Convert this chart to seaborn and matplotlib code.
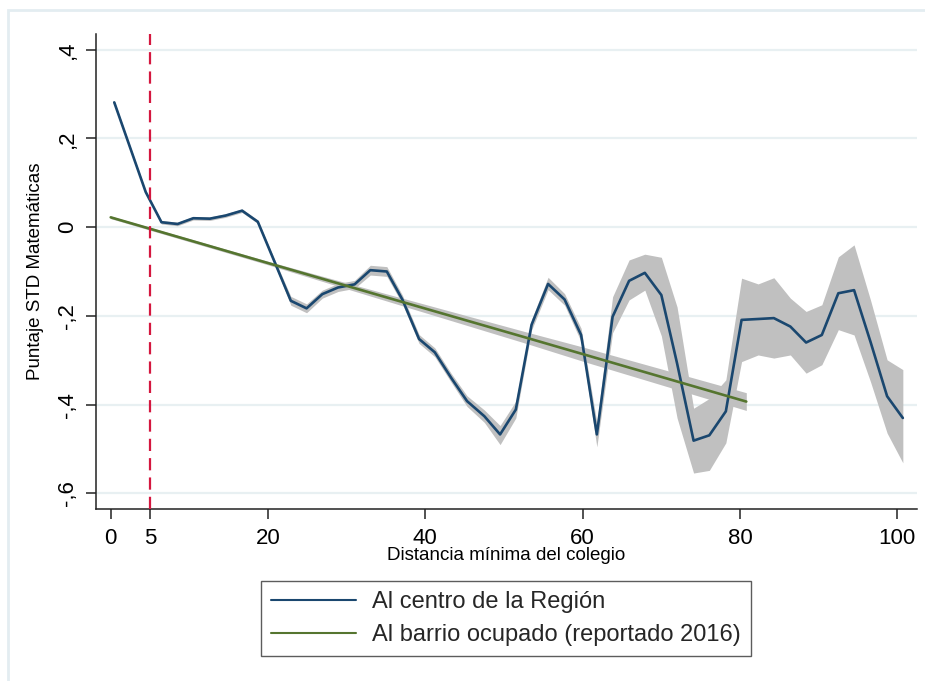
import matplotlib
matplotlib.use("Agg")
import matplotlib.pyplot as plt
import matplotlib.patches as mpatches
from matplotlib.lines import Line2D
import seaborn as sns
import pandas as pd

# ---------------- data ----------------
dist_centro = [0.45, 2.45, 4.45, 6.45, 8.5, 10.5, 12.6, 14.6, 16.7, 18.7,
               20.8, 22.9, 24.9, 26.9, 28.9, 31.0, 33.0, 35.1, 37.1, 39.2,
               41.2, 43.3, 45.3, 47.5, 49.5, 51.5, 53.5, 55.6, 57.7, 59.8,
               61.8, 63.8, 65.9, 67.9, 70.0, 72.0, 74.1, 76.1, 78.2, 80.2,
               82.3, 84.3, 86.4, 88.4, 90.4, 92.5, 94.5, 96.6, 98.7, 100.7]
puntaje_centro = [0.281, 0.180, 0.079, 0.011, 0.007, 0.020, 0.019, 0.026, 0.037, 0.012,
                  -0.077, -0.166, -0.183, -0.151, -0.136, -0.129, -0.097, -0.100, -0.164, -0.252,
                  -0.282, -0.340, -0.392, -0.426, -0.467, -0.411, -0.220, -0.128, -0.163, -0.243,
                  -0.467, -0.202, -0.121, -0.103, -0.153, -0.307, -0.481, -0.469, -0.415, -0.209,
                  -0.207, -0.205, -0.224, -0.260, -0.243, -0.149, -0.142, -0.259, -0.381, -0.430]
ci_low_centro = [0.277, 0.176, 0.075, 0.007, 0.003, 0.016, 0.015, 0.022, 0.033, 0.008,
                 -0.083, -0.176, -0.193, -0.160, -0.145, -0.138, -0.108, -0.111, -0.174, -0.262,
                 -0.292, -0.350, -0.404, -0.440, -0.490, -0.430, -0.232, -0.141, -0.176, -0.258,
                 -0.495, -0.238, -0.164, -0.142, -0.245, -0.430, -0.554, -0.548, -0.486, -0.303,
                 -0.288, -0.295, -0.288, -0.329, -0.310, -0.231, -0.243, -0.349, -0.464, -0.531]
ci_high_centro = [0.285, 0.184, 0.083, 0.015, 0.011, 0.024, 0.023, 0.030, 0.041, 0.016,
                  -0.071, -0.156, -0.173, -0.142, -0.127, -0.120, -0.086, -0.089, -0.154, -0.242,
                  -0.272, -0.330, -0.380, -0.412, -0.447, -0.392, -0.208, -0.113, -0.150, -0.228,
                  -0.440, -0.157, -0.074, -0.061, -0.068, -0.180, -0.408, -0.386, -0.344, -0.115,
                  -0.128, -0.114, -0.160, -0.190, -0.175, -0.067, -0.040, -0.165, -0.299, -0.321]

dist_barrio = [0.0, 20.0, 35.0, 53.0, 60.0, 80.8]
puntaje_barrio = [0.022, -0.081, -0.158, -0.250, -0.286, -0.393]
ci_low_barrio = [0.019, -0.085, -0.166, -0.263, -0.302, -0.413]
ci_high_barrio = [0.025, -0.077, -0.150, -0.237, -0.270, -0.373]

umbral = 5
x_ticks = [0, 5, 20, 40, 60, 80, 100]
y_ticks = [0.4, 0.2, 0.0, -0.2, -0.4, -0.6]
y_tick_labels = [",4", ",2", "0", "-,2", "-,4", "-,6"]
series_names = ["Al centro de la Región", "Al barrio ocupado (reportado 2016)"]
x_label = "Distancia mínima del colegio"
y_label = "Puntaje STD Matemáticas"

# ---------------- style ----------------
sns.set_theme(style="white")
plt.rcParams["font.family"] = ["Liberation Sans", "DejaVu Sans"]

BLUE = "#1a476f"
GREEN = "#55752f"
GREY = "#c0c0c0"
RED = "#d4173f"
GRID = "#e8f0f2"

fig = plt.figure(figsize=(9.25, 6.81), dpi=100)
fig.patch.set_facecolor("white")
W, H = 925, 681
ax = fig.add_axes([96 / W, 1 - 509 / H, (917 - 96) / W, (509 - 34) / H])
ax.set_facecolor("white")

# outer graph-region border
fig.add_artist(mpatches.Rectangle((8 / W, -0.02), 1.2, 1 - 10 / H + 0.02,
                                  transform=fig.transFigure, fill=False,
                                  edgecolor="#e3edf1", linewidth=2.0, zorder=0))

df_c = pd.DataFrame({"x": dist_centro, "y": puntaje_centro,
                     "lo": ci_low_centro, "hi": ci_high_centro})
df_b = pd.DataFrame({"x": dist_barrio, "y": puntaje_barrio,
                     "lo": ci_low_barrio, "hi": ci_high_barrio})

ax.fill_between(df_c["x"], df_c["lo"], df_c["hi"], color=GREY, linewidth=0, zorder=2)
ax.fill_between(df_b["x"], df_b["lo"], df_b["hi"], color=GREY, linewidth=0, zorder=2)
sns.lineplot(data=df_c, x="x", y="y", ax=ax, color=BLUE, linewidth=1.9,
             sort=False, estimator=None, zorder=3)
sns.lineplot(data=df_b, x="x", y="y", ax=ax, color=GREEN, linewidth=1.9,
             sort=False, estimator=None, zorder=3)

ax.axvline(umbral, color=RED, linewidth=1.6, dashes=(5.5, 3.2), zorder=4)

# axes
ax.set_xlim(-1.87, 102.5)
ax.set_ylim(-0.635, 0.435)
ax.set_xticks(x_ticks)
ax.set_xticklabels([str(t) for t in x_ticks])
ax.set_yticks(y_ticks)
ax.set_yticklabels(y_tick_labels, rotation=90, va="center")
for yt in y_ticks:
    ax.axhline(yt, color=GRID, linewidth=1.6, zorder=1)

for s in ["top", "right"]:
    ax.spines[s].set_visible(False)
for s in ["left", "bottom"]:
    ax.spines[s].set_color("#222222")
    ax.spines[s].set_linewidth(1.1)

ax.tick_params(axis="both", which="major", direction="out", length=7, width=1.1,
               color="#222222", labelsize=16, labelcolor="black")
ax.tick_params(axis="x", bottom=True, pad=6.5)
ax.tick_params(axis="y", left=True, pad=6)

ax.set_xlabel(x_label, fontsize=13.5, color="black")
ax.set_ylabel(y_label, fontsize=13.5, color="black")
ax.xaxis.set_label_coords(0.5, -0.08)
ax.yaxis.set_label_coords(-0.063, 0.5)

handles = [Line2D([0], [0], color=BLUE, linewidth=1.5),
           Line2D([0], [0], color=GREEN, linewidth=1.5)]
leg = fig.legend(handles, series_names, loc="upper center",
                 bbox_to_anchor=(506 / W, 1 - 581 / H), ncol=1,
                 fontsize=17, frameon=True, fancybox=False, shadow=False,
                 handlelength=3.6, handletextpad=0.68, borderpad=0.42,
                 labelspacing=0.48, borderaxespad=0)
leg.get_frame().set_edgecolor("#333333")
leg.get_frame().set_linewidth(1.0)

fig.savefig("out.png", dpi=100)
